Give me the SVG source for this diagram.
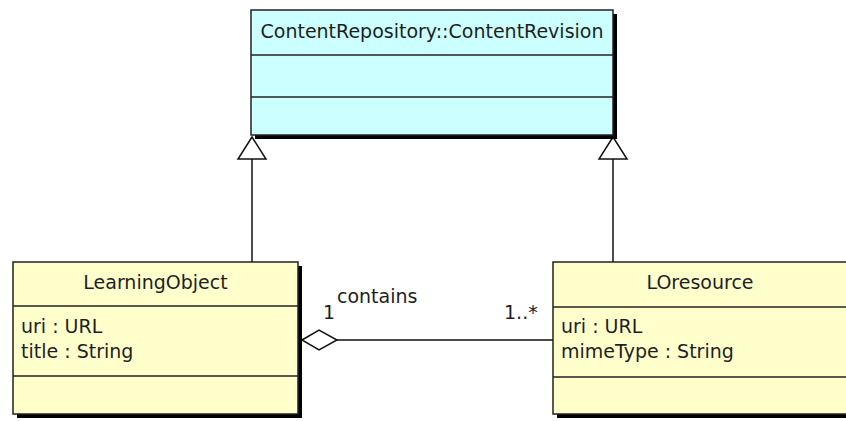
<svg xmlns="http://www.w3.org/2000/svg" width="846" height="421" viewBox="0 0 846 421">
<style>
.shadow{fill:#000}
.box{stroke:#222;stroke-width:1.5}
.cyan{fill:#ccffff}
.yellow{fill:#ffffcc}
.div{stroke:#222;stroke-width:1.5}
text{font-family:"DejaVu Sans",sans-serif;font-size:19px;fill:#1e1e1e}
.c{text-anchor:middle}
.edge{stroke:#111;stroke-width:1.5;fill:none}
.tri{fill:#fff;stroke:#111;stroke-width:1.5}
</style>
<rect width="846" height="421" fill="#fff"/>
<g id="connectors">
<line class="edge" x1="252" y1="262" x2="252" y2="159"/>
<polygon class="tri" points="252,137 238,159 266,159"/>
<line class="edge" x1="613" y1="262" x2="613" y2="159"/>
<polygon class="tri" points="613,137 599,159 627,159"/>
<line class="edge" x1="337" y1="340" x2="553" y2="340"/>
<polygon class="tri" points="302,340 319,330 337,340 319,350"/>
<text x="337" y="303">contains</text>
<text x="323" y="319">1</text>
<text x="504" y="319">1..*</text>
</g>
<g id="ContentRevision">
<rect class="shadow" x="255" y="14" width="362" height="125"/>
<rect class="box cyan" x="251" y="10" width="362" height="125"/>
<line class="div" x1="251" y1="55" x2="613" y2="55"/>
<line class="div" x1="251" y1="97" x2="613" y2="97"/>
<text class="c" x="432" y="38">ContentRepository::ContentRevision</text>
</g>
<g id="LearningObject">
<rect class="shadow" x="17" y="266" width="285" height="152"/>
<rect class="box yellow" x="13" y="262" width="285" height="152"/>
<line class="div" x1="13" y1="306" x2="298" y2="306"/>
<line class="div" x1="13" y1="376" x2="298" y2="376"/>
<text class="c" x="155.5" y="289">LearningObject</text>
<text x="21" y="333">uri : URL</text>
<text x="21" y="358">title : String</text>
</g>
<g id="LOresource">
<rect class="shadow" x="557" y="266" width="296" height="152"/>
<rect class="box yellow" x="553" y="262" width="296" height="152"/>
<line class="div" x1="553" y1="307" x2="849" y2="307"/>
<line class="div" x1="553" y1="377" x2="849" y2="377"/>
<text class="c" x="700" y="289">LOresource</text>
<text x="561" y="333">uri : URL</text>
<text x="561" y="358">mimeType : String</text>
</g>
</svg>
